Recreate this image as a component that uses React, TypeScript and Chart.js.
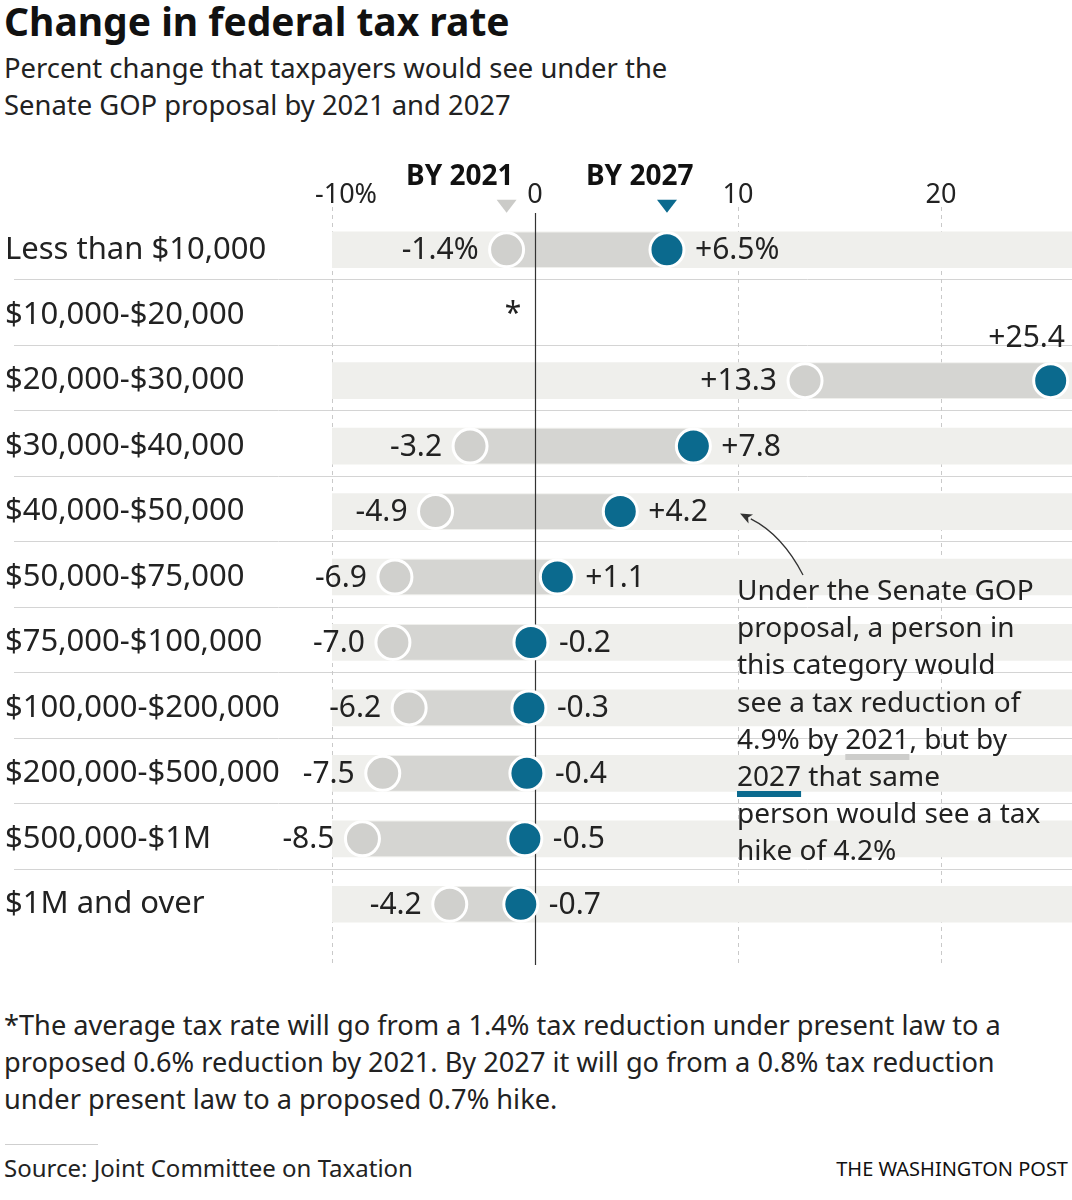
import React, { useEffect, useRef } from 'react';
import { Chart, registerables } from 'chart.js';

Chart.register(...registerables);

const categories = [
  'Less than $10,000',
  '$10,000-$20,000',
  '$20,000-$30,000',
  '$30,000-$40,000',
  '$40,000-$50,000',
  '$50,000-$75,000',
  '$75,000-$100,000',
  '$100,000-$200,000',
  '$200,000-$500,000',
  '$500,000-$1M',
  '$1M and over',
];
const rate2021: (number | null)[] = [-1.4, null, 13.3, -3.2, -4.9, -6.9, -7.0, -6.2, -7.5, -8.5, -4.2];
const rate2027: (number | null)[] = [6.5, null, 25.4, 7.8, 4.2, 1.1, -0.2, -0.3, -0.4, -0.5, -0.7];
const xTicks = [-10, 0, 10, 20];
const AXIS_MIN = -10;
const AXIS_MAX = 26.45;

const FONT = '"Noto Sans", sans-serif';
const TEXT = '#222';
const BAND = '#efefec';
const RANGE = '#d5d5d2';
const GRAY = '#d0d0cd';
const BLUE = '#0b6a8e';

const fmt = (v: number) => (v > 0 ? '+' : '') + v.toFixed(1);

const decor = {
  id: 'decor',
  beforeDatasetsDraw(chart: any) {
    const { ctx, chartArea, scales } = chart;
    const x = scales.x;
    const y = scales.y;
    ctx.save();
    ctx.strokeStyle = '#d4d4d4';
    ctx.lineWidth = 1;
    for (let i = 0; i < categories.length - 1; i++) {
      const yy = Math.round((y.getPixelForValue(i) + y.getPixelForValue(i + 1)) / 2) - 2.5;
      ctx.beginPath();
      ctx.moveTo(14, yy);
      ctx.lineTo(chart.width, yy);
      ctx.stroke();
    }
    ctx.setLineDash([4, 4]);
    ctx.strokeStyle = '#c9c9c9';
    xTicks.filter((t) => t !== 0).forEach((t) => {
      const xx = Math.round(x.getPixelForValue(t)) + 0.5;
      ctx.beginPath();
      ctx.moveTo(xx, chartArea.top - 10);
      ctx.lineTo(xx, chartArea.bottom + 28);
      ctx.stroke();
    });
    ctx.restore();
  },
  afterDatasetDraw(chart: any, args: any) {
    if (args.index !== 1) return;
    const { ctx, chartArea, scales } = chart;
    const xx = Math.round(scales.x.getPixelForValue(0)) + 0.5;
    ctx.save();
    ctx.strokeStyle = '#333';
    ctx.lineWidth = 1.2;
    ctx.beginPath();
    ctx.moveTo(xx, chartArea.top - 4);
    ctx.lineTo(xx, chartArea.bottom + 28);
    ctx.stroke();
    ctx.restore();
  },
  afterDatasetsDraw(chart: any) {
    const { ctx, scales } = chart;
    const x = scales.x;
    const y = scales.y;
    ctx.save();
    ctx.fillStyle = TEXT;
    ctx.textBaseline = 'middle';
    ctx.font = `30px ${FONT}`;
    const OFF = 28;
    categories.forEach((_, i) => {
      const a = rate2021[i];
      const b = rate2027[i];
      const cy = y.getPixelForValue(i);
      if (a == null || b == null) return;
      const suffix = i === 0 ? '%' : '';
      const ax = x.getPixelForValue(a);
      const bx = x.getPixelForValue(b);
      ctx.textAlign = 'right';
      ctx.fillText(fmt(a) + suffix, ax - OFF, cy + 1);
      if (bx + OFF + 60 > chart.width) {
        ctx.textAlign = 'right';
        ctx.fillText(fmt(b) + suffix, chart.width - 7, cy - 42);
      } else {
        ctx.textAlign = 'left';
        ctx.fillText(fmt(b) + suffix, bx + OFF, cy + 1);
      }
    });
    // footnote marker for the row without data
    const emptyRow = rate2021.findIndex((v) => v == null);
    if (emptyRow >= 0) {
      ctx.textAlign = 'center';
      ctx.fillText('*', x.getPixelForValue(-1.08), y.getPixelForValue(emptyRow) - 1);
    }
    // column headers with triangles
    const t1 = x.getPixelForValue(rate2021[0] as number);
    const t2 = x.getPixelForValue(rate2027[0] as number);
    const triTop = y.getPixelForValue(0) - 50;
    const drawTri = (cx: number, color: string) => {
      ctx.fillStyle = color;
      ctx.beginPath();
      ctx.moveTo(cx - 10, triTop);
      ctx.lineTo(cx + 10, triTop);
      ctx.lineTo(cx, triTop + 13);
      ctx.closePath();
      ctx.fill();
    };
    drawTri(t1, '#cbcbc8');
    drawTri(t2, BLUE);
    ctx.fillStyle = '#111';
    ctx.font = `bold 28px ${FONT}`;
    ctx.textAlign = 'right';
    ctx.fillText('BY 2021', t1 + 7, triTop - 23);
    ctx.textAlign = 'left';
    ctx.fillText('BY 2027', t2 - 81, triTop - 23);
    // annotation arrow
    const tipX = x.getPixelForValue(10.1);
    const tipY = y.getPixelForValue(4) + 2;
    const sx = x.getPixelForValue(13.2);
    const sy = y.getPixelForValue(5) - 2;
    const cx = sx - 21;
    const cyy = tipY + 21;
    const ang = Math.atan2(tipY - cyy, tipX - cx);
    const len = 12;
    const bxp = tipX - len * Math.cos(ang);
    const byp = tipY - len * Math.sin(ang);
    ctx.strokeStyle = '#333';
    ctx.lineWidth = 1.3;
    ctx.beginPath();
    ctx.moveTo(sx, sy);
    ctx.quadraticCurveTo(cx, cyy, bxp, byp);
    ctx.stroke();
    ctx.fillStyle = '#333';
    ctx.beginPath();
    ctx.moveTo(tipX, tipY);
    ctx.lineTo(bxp + 5 * Math.sin(ang), byp - 5 * Math.cos(ang));
    ctx.lineTo(tipX - (len - 3) * Math.cos(ang), tipY - (len - 3) * Math.sin(ang));
    ctx.lineTo(bxp - 5 * Math.sin(ang), byp + 5 * Math.cos(ang));
    ctx.closePath();
    ctx.fill();
    ctx.restore();
  },
};

export default function App() {
  const ref = useRef<HTMLCanvasElement>(null);

  useEffect(() => {
    document.body.style.margin = '0';
    const canvas = ref.current;
    if (!canvas) return;

    const bandData = categories.map((_, i) => (rate2021[i] == null ? null : [AXIS_MIN, AXIS_MAX]));
    const rangeData = categories.map((_, i) =>
      rate2021[i] == null || rate2027[i] == null ? null : [rate2021[i], rate2027[i]]
    );
    const pts = (arr: (number | null)[]) =>
      arr.map((v, i) => (v == null ? null : { x: v, y: categories[i] })).filter((p) => p !== null);

    const chart = new Chart(canvas, {
      type: 'bar',
      data: {
        labels: categories,
        datasets: [
          {
            label: 'band',
            data: bandData as any,
            backgroundColor: BAND,
            barThickness: 36,
            grouped: false,
            order: 4,
          } as any,
          {
            label: 'range',
            data: rangeData as any,
            backgroundColor: RANGE,
            barThickness: 34,
            grouped: false,
            order: 3,
          } as any,
          {
            type: 'line',
            label: 'By 2021',
            data: pts(rate2021) as any,
            showLine: false,
            indexAxis: 'y',
            pointRadius: 17,
            pointHoverRadius: 17,
            pointBorderWidth: 3,
            pointBorderColor: '#fff',
            pointBackgroundColor: GRAY,
            order: 2,
          } as any,
          {
            type: 'line',
            label: 'By 2027',
            data: pts(rate2027) as any,
            showLine: false,
            indexAxis: 'y',
            pointRadius: 17,
            pointHoverRadius: 17,
            pointBorderWidth: 3,
            pointBorderColor: '#fff',
            pointBackgroundColor: BLUE,
            order: 1,
          } as any,
        ],
      },
      options: {
        indexAxis: 'y',
        responsive: false,
        animation: false,
        events: [],
        layout: { autoPadding: false, padding: { left: 5, right: 0, top: 0, bottom: 43 } },
        plugins: { legend: { display: false }, tooltip: { enabled: false } },
        scales: {
          x: {
            type: 'linear',
            position: 'top',
            min: AXIS_MIN,
            max: AXIS_MAX,
            grid: { display: false, drawTicks: false },
            border: { display: false },
            afterBuildTicks: (s: any) => {
              s.ticks = xTicks.map((v) => ({ value: v }));
            },
            afterFit: (s: any) => {
              s.height = 67;
              s.paddingLeft = 0;
              s.paddingRight = 0;
            },
            ticks: {
              padding: 5,
              color: TEXT,
              font: { family: FONT, size: 27 },
              maxRotation: 0,
              callback: (v: any) => (Number(v) === AXIS_MIN ? `    ${v}%` : `${v}`),
            },
          },
          y: {
            type: 'category',
            position: 'left',
            grid: { display: false },
            border: { display: false },
            afterFit: (s: any) => {
              s.width = 327;
              s.paddingTop = 0;
              s.paddingBottom = 0;
            },
            ticks: {
              crossAlign: 'far',
              padding: 0,
              color: TEXT,
              font: { family: FONT, size: 31 },
            },
          },
        },
      } as any,
      plugins: [decor],
    });
    return () => chart.destroy();
  }, []);

  const u2021: React.CSSProperties = {
    textDecoration: 'underline',
    textDecorationColor: '#cdcdcb',
    textDecorationThickness: '6px',
    textUnderlineOffset: '5px',
  };
  const u2027: React.CSSProperties = { ...u2021, textDecorationColor: BLUE };

  return (
    <div
      style={{
        position: 'relative',
        width: 1072,
        height: 1200,
        overflow: 'hidden',
        background: '#fff',
        fontFamily: FONT,
        color: TEXT,
      }}
    >
      <div
        style={{
          position: 'absolute',
          left: 4,
          top: -3,
          fontSize: 39,
          lineHeight: '48px',
          fontWeight: 700,
          color: '#111',
          whiteSpace: 'nowrap',
        }}
      >
        Change in federal tax rate
      </div>
      <div
        style={{
          position: 'absolute',
          left: 4,
          top: 49,
          fontSize: 27.4,
          lineHeight: '37px',
          whiteSpace: 'nowrap',
        }}
      >
        Percent change that taxpayers would see under the
        <br />
        Senate GOP proposal by 2021 and 2027
      </div>
      <canvas
        ref={ref}
        width={1072}
        height={830}
        style={{ position: 'absolute', left: 0, top: 150, width: 1072, height: 830 }}
      />
      <div
        style={{
          position: 'absolute',
          left: 737,
          top: 571,
          fontSize: 28,
          lineHeight: '37.2px',
          whiteSpace: 'nowrap',
        }}
      >
        Under the Senate GOP
        <br />
        proposal, a person in
        <br />
        this category would
        <br />
        see a tax reduction of
        <br />
        4.9% by <span style={u2021}>2021</span>, but by
        <br />
        <span style={u2027}>2027</span> that same
        <br />
        person would see a tax
        <br />
        hike of 4.2%
      </div>
      <div
        style={{
          position: 'absolute',
          left: 4,
          top: 1006,
          fontSize: 27.2,
          lineHeight: '37px',
          whiteSpace: 'nowrap',
        }}
      >
        *The average tax rate will go from a 1.4% tax reduction under present law to a
        <br />
        proposed 0.6% reduction by 2021. By 2027 it will go from a 0.8% tax reduction
        <br />
        under present law to a proposed 0.7% hike.
      </div>
      <div
        style={{
          position: 'absolute',
          left: 5,
          top: 1144,
          width: 93,
          height: 1,
          background: '#cfcfcf',
        }}
      />
      <div
        style={{
          position: 'absolute',
          left: 4,
          top: 1153,
          fontSize: 24,
          lineHeight: '30px',
          whiteSpace: 'nowrap',
        }}
      >
        Source: Joint Committee on Taxation
      </div>
      <div
        style={{
          position: 'absolute',
          right: 4,
          top: 1154,
          fontSize: 20,
          lineHeight: '30px',
          whiteSpace: 'nowrap',
          color: '#111',
        }}
      >
        THE WASHINGTON POST
      </div>
    </div>
  );
}
